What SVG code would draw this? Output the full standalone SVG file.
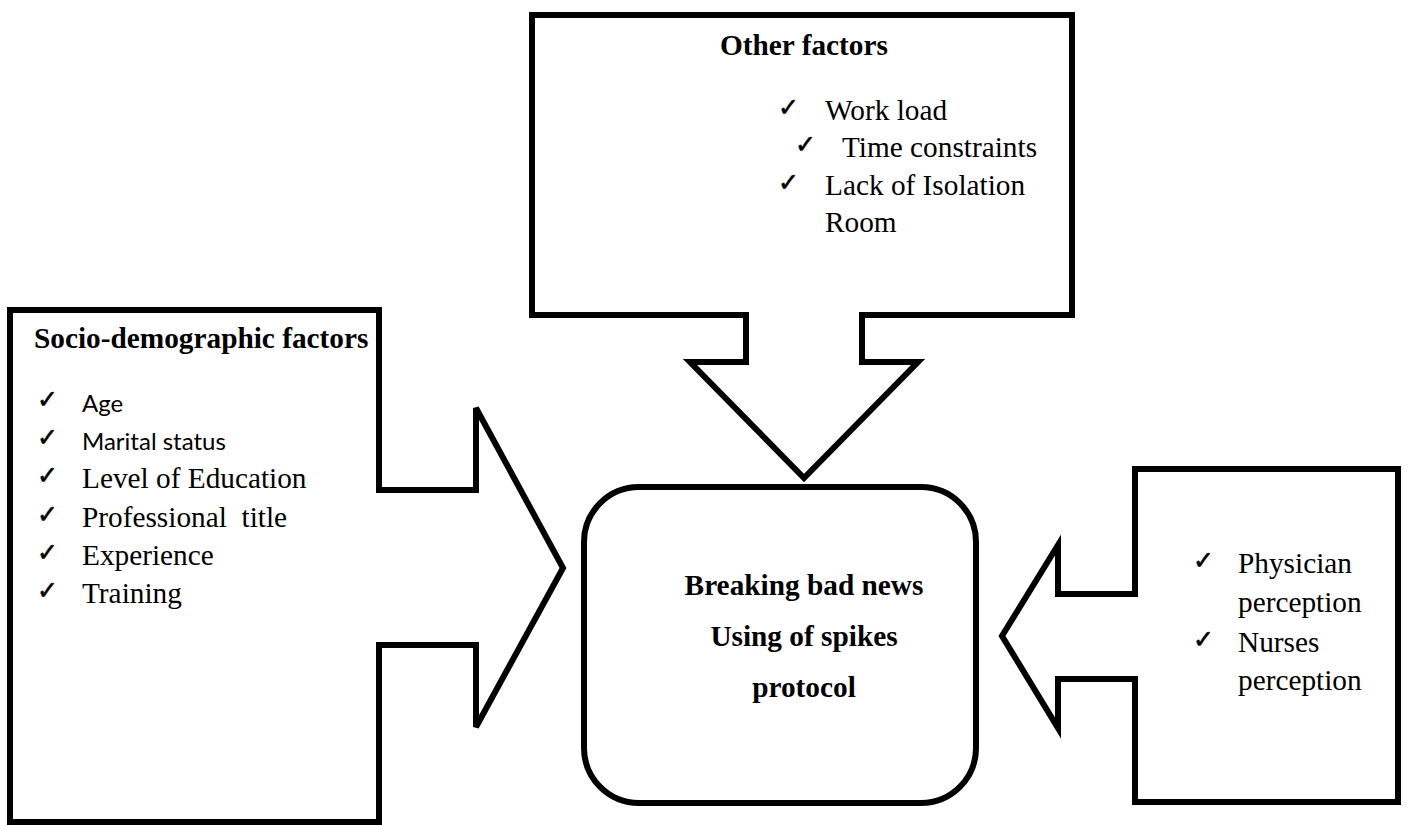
<svg xmlns="http://www.w3.org/2000/svg" width="1408" height="825" viewBox="0 0 1408 825">
<style>
.shape{fill:#fff;stroke:#000;stroke-width:6;stroke-linejoin:miter}
.t{font-family:"Liberation Serif","Times New Roman",serif;font-size:29.3px;fill:#000}
.b{font-weight:bold}
.s{font-family:Lato,"Open Sans",sans-serif;font-size:24px;fill:#000}
.ck{font-family:"DejaVu Sans",sans-serif;font-size:25px;fill:#000;stroke:#000;stroke-width:0.6}
</style>
<rect width="1408" height="825" fill="#fff"/>
<g id="connectors">
<path id="arrow-top" class="shape" d="M532,15 H1072 V315 H862 V362 H918 L804,478 L690,362 H746 V315 H532 Z"/>
<path id="arrow-left" class="shape" d="M10,310 H379 V490 H476 V408 L563,568 L476,727 V645 H379 V822 H10 Z"/>
<path id="arrow-right" class="shape" d="M1135,469 H1398 V802 H1135 V679 H1058 V728 L1002,636 L1058,545 V594 H1135 Z"/>
</g>
<g id="node-other">
<text class="t b" x="720" y="55">Other factors</text>
<text class="ck" x="778" y="116">✓</text><text class="t" x="825" y="120">Work load</text>
<text class="ck" x="795" y="153">✓</text><text class="t" x="842" y="157">Time constraints</text>
<text class="ck" x="778" y="191">✓</text><text class="t" x="825" y="195">Lack of Isolation</text>
<text class="t" x="825" y="232">Room</text>
</g>
<g id="node-socio">
<text class="t b" x="34" y="348">Socio-demographic factors</text>
<text class="ck" x="37" y="408">✓</text><text class="s" x="82" y="412">Age</text>
<text class="ck" x="37" y="446">✓</text><text class="s" x="82" y="450">Marital status</text>
<text class="ck" x="37" y="484">✓</text><text class="t" x="82" y="488">Level of Education</text>
<text class="ck" x="37" y="523">✓</text><text class="t" x="82" y="527" xml:space="preserve">Professional  title</text>
<text class="ck" x="37" y="561">✓</text><text class="t" x="82" y="565">Experience</text>
<text class="ck" x="37" y="599">✓</text><text class="t" x="82" y="603">Training</text>
</g>
<g id="node-perception">
<text class="ck" x="1193" y="569">✓</text><text class="t" x="1238" y="573">Physician</text>
<text class="t" x="1238" y="612">perception</text>
<text class="ck" x="1193" y="648">✓</text><text class="t" x="1238" y="652">Nurses</text>
<text class="t" x="1238" y="690">perception</text>
</g>
<g id="node-center">
<rect class="shape" x="584" y="487" width="392" height="316" rx="55" ry="55"/>
<text class="t b" x="804" y="595" text-anchor="middle">Breaking bad news</text>
<text class="t b" x="804" y="646" text-anchor="middle">Using of spikes</text>
<text class="t b" x="804" y="697" text-anchor="middle">protocol</text>
</g>
</svg>
